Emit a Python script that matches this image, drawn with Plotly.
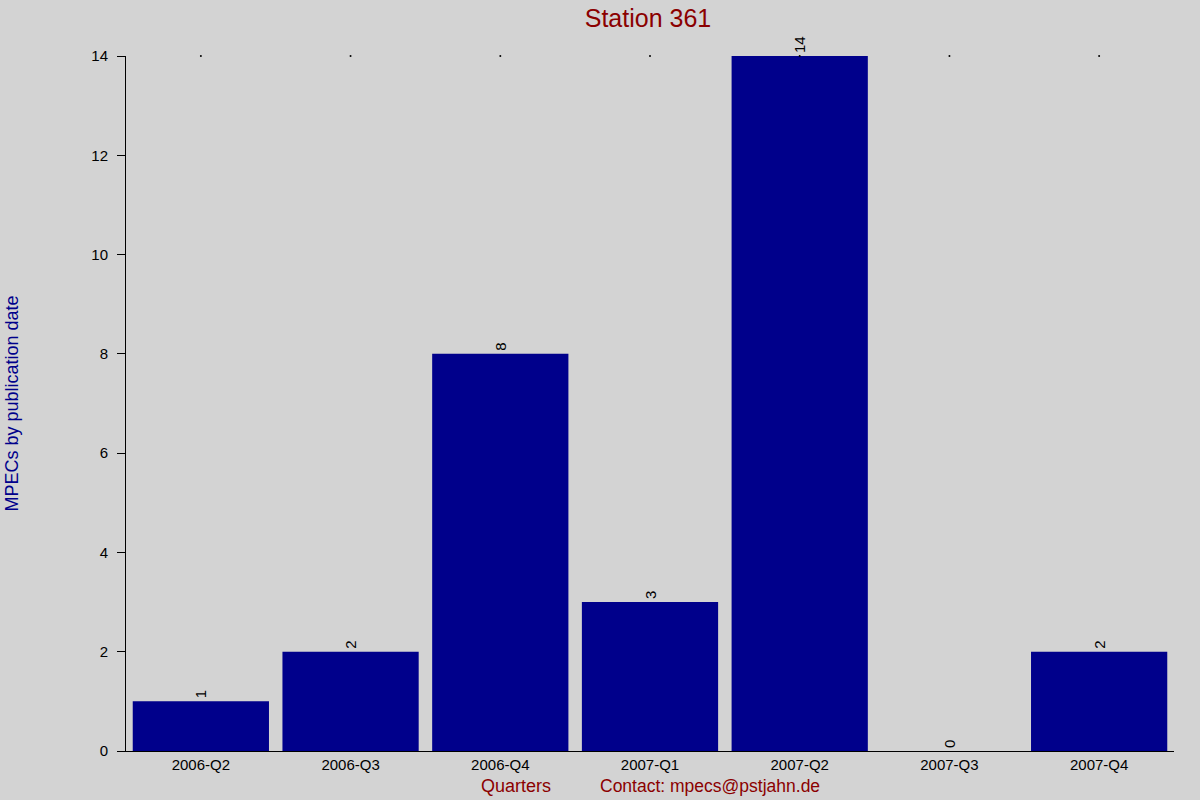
import plotly.graph_objects as go

quarters = ["2006-Q2", "2006-Q3", "2006-Q4", "2007-Q1", "2007-Q2", "2007-Q3", "2007-Q4"]
mpecs = [1, 2, 8, 3, 14, 0, 2]
y_ticks = [0, 2, 4, 6, 8, 10, 12, 14]

FONT = "Liberation Sans, Arial, sans-serif"

fig = go.Figure()
fig.add_trace(go.Bar(
    x=quarters, y=mpecs,
    marker=dict(color="#00008B", line=dict(width=0)),
    width=0.91,
    text=[str(v) for v in mpecs],
    textposition="outside",
    textangle=-90,
    textfont=dict(family=FONT, size=15, color="#000000"),
    cliponaxis=False,
    constraintext="none",
))
# tiny dots along the top edge, one per quarter
fig.add_trace(go.Scatter(
    x=quarters, y=[max(y_ticks)] * len(quarters),
    mode="markers",
    marker=dict(color="#000000", size=2),
    cliponaxis=False,
    hoverinfo="skip",
))

W, H = 1200, 800
L, R, T, B = 126, 26, 56, 49
plot_w = W - L - R

fig.update_layout(
    width=W, height=H,
    paper_bgcolor="#D3D3D3", plot_bgcolor="#D3D3D3",
    margin=dict(l=L, r=R, t=T, b=B, autoexpand=False),
    showlegend=False,
    font=dict(family=FONT, size=15, color="#000000"),
    title=dict(text="Station 361", x=648 / W, xanchor="center", y=1 - 18 / H, yanchor="middle",
               font=dict(family=FONT, size=25, color="#8B0000")),
    xaxis=dict(
        showgrid=False, showline=True, linecolor="#000000", linewidth=1,
        ticks="", tickfont=dict(size=15), zeroline=False, automargin=False,
    ),
    yaxis=dict(
        range=[0, 14], tickvals=y_ticks, showgrid=False, zeroline=False,
        showline=True, linecolor="#000000", linewidth=1,
        ticks="outside", ticklen=8, tickcolor="#000000", tickfont=dict(size=15),
        ticklabelstandoff=6, automargin=False,
    ),
    annotations=[
        dict(text="MPECs by publication date", xref="paper", yref="paper",
             x=0, xshift=-(L - 11), y=0.5, xanchor="center", yanchor="middle",
             textangle=-90, showarrow=False,
             font=dict(family=FONT, size=18, color="#00008B")),
        dict(text="Quarters", xref="paper", yref="paper", x=(516 - L) / plot_w, y=0,
             yshift=-35, xanchor="center", yanchor="middle", showarrow=False,
             font=dict(family=FONT, size=18, color="#8B0000")),
        dict(text="Contact: mpecs@pstjahn.de", xref="paper", yref="paper", x=(710 - L) / plot_w,
             y=0, yshift=-35, xanchor="center", yanchor="middle", showarrow=False,
             font=dict(family=FONT, size=17.5, color="#8B0000")),
    ],
)

# drop the default body margin so the figure sits at the window corner
fig.write_html("out.html", config={"displayModeBar": False},
               post_script="document.body.style.margin='0';")
